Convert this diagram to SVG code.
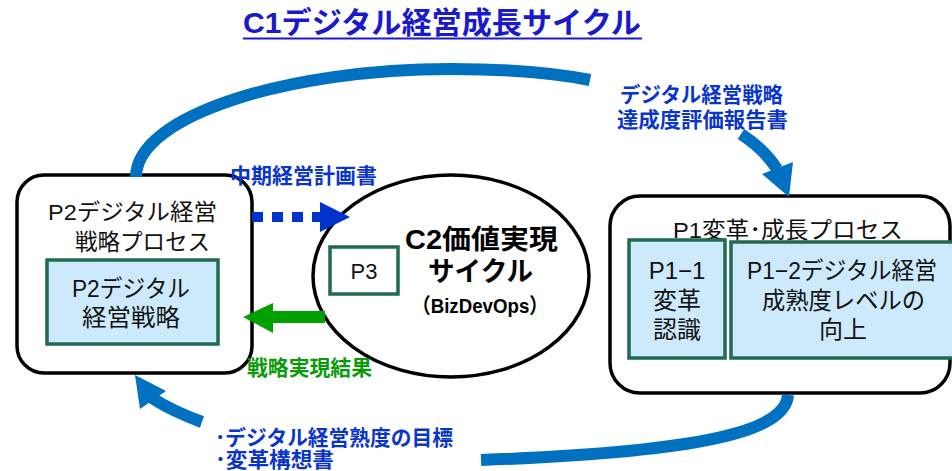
<svg xmlns="http://www.w3.org/2000/svg" width="952" height="471" viewBox="0 0 952 471">
<defs>
<style>
text{font-family:"Liberation Sans","Noto Sans CJK JP",sans-serif;}
.box{fill:#ffffff;stroke:#000000;stroke-width:3.5;}
.inner{fill:#cdeafc;stroke:#1f6a50;stroke-width:3.5;}
.p3{fill:#ffffff;stroke:#1f6a50;stroke-width:3.5;}
.t{font-size:22.5px;fill:#111;}
.ti{font-size:24px;fill:#111;}
.lb{font-size:21px;font-weight:bold;fill:#0a35cc;}
.lg{font-size:21px;font-weight:bold;fill:#0a9a0a;}
.arc{fill:none;stroke:#0070c0;stroke-width:12;}
.head{fill:#0070c0;}
</style>
</defs>

<g id="title">
<text x="243" y="33" font-size="30" font-weight="bold" fill="#1a1acc" textLength="398" lengthAdjust="spacingAndGlyphs">C1デジタル経営成長サイクル</text>
<rect x="243" y="37.5" width="399" height="2" fill="#1a1acc"/>
</g>

<g id="p2">
<rect class="box" x="17" y="175" width="235" height="198" rx="27"/>
<text class="t" x="48" y="220" textLength="169" lengthAdjust="spacingAndGlyphs">P2デジタル経営</text>
<text class="t" x="75" y="250" textLength="135" lengthAdjust="spacingAndGlyphs">戦略プロセス</text>
<rect class="inner" x="47" y="260" width="171" height="84"/>
<text class="ti" x="72" y="297" textLength="118" lengthAdjust="spacingAndGlyphs">P2デジタル</text>
<text class="ti" x="82" y="326" textLength="98" lengthAdjust="spacingAndGlyphs">経営戦略</text>
</g>

<g id="c2">
<ellipse cx="451" cy="276" rx="138" ry="101" fill="#ffffff" stroke="#000" stroke-width="3.5"/>
<text x="405" y="249" font-size="27" font-weight="bold" fill="#000" textLength="153" lengthAdjust="spacingAndGlyphs">C2価値実現</text>
<text x="428" y="281" font-size="27" font-weight="bold" fill="#000" textLength="105" lengthAdjust="spacingAndGlyphs">サイクル</text>
<text x="412" y="313" font-size="21" font-weight="bold" fill="#000" textLength="136" lengthAdjust="spacingAndGlyphs">（BizDevOps）</text>
</g>

<g id="p3">
<rect class="p3" x="330" y="247" width="68" height="47"/>
<text x="364" y="279" font-size="22" fill="#111" text-anchor="middle">P3</text>
</g>

<g id="p1">
<rect class="box" x="610" y="196" width="340" height="197" rx="30"/>
<text class="t" x="673" y="238" textLength="230" lengthAdjust="spacingAndGlyphs">P1変革･成長プロセス</text>
</g>

<g id="p1-1">
<rect class="inner" x="629" y="240" width="96" height="118"/>
<text class="ti" x="677" y="279" text-anchor="middle" font-size="23">P1−1</text>
<text class="ti" x="677" y="309" text-anchor="middle" font-size="23">変革</text>
<text class="ti" x="677" y="338" text-anchor="middle" font-size="23">認識</text>
</g>

<g id="p1-2">
<rect class="inner" x="731" y="242" width="226" height="116"/>
<text class="ti" x="747" y="279" font-size="23" textLength="190" lengthAdjust="spacingAndGlyphs">P1−2デジタル経営</text>
<text class="ti" x="762" y="309" font-size="23" textLength="163" lengthAdjust="spacingAndGlyphs">成熟度レベルの</text>
<text class="ti" x="843" y="338" font-size="23" text-anchor="middle">向上</text>
</g>

<g id="connectors">
<path class="arc" d="M136,177 C136,115 290,69 450,69 C520,69 560,74 590,80"/>
<path class="arc" d="M741,134 Q764,149 777,169"/>
<polygon class="head" points="762,174 793,162 789,197"/>
<path class="arc" stroke-width="11" d="M788,395 C785,432 700,452 481,460"/>
<path class="arc" stroke-width="11" d="M202,422 Q172,411 152,398"/>
<polygon class="head" points="135,375 140,409 166,391"/>
<line x1="252" y1="217" x2="320" y2="217" stroke="#0033cc" stroke-width="10" stroke-dasharray="11 9"/>
<polygon points="320,202 350,217 320,232" fill="#0033cc"/>
<line x1="325" y1="317" x2="272" y2="317" stroke="#00a000" stroke-width="12"/>
<polygon points="273,303 243,317 273,333" fill="#00a000"/>
</g>

<g id="labels">
<text class="lb" x="230" y="183" textLength="147" lengthAdjust="spacingAndGlyphs">中期経営計画書</text>
<text class="lg" x="247" y="375" textLength="125" lengthAdjust="spacingAndGlyphs">戦略実現結果</text>
<text class="lb" x="620" y="102" textLength="163" lengthAdjust="spacingAndGlyphs">デジタル経営戦略</text>
<text class="lb" x="617" y="127" textLength="171" lengthAdjust="spacingAndGlyphs">達成度評価報告書</text>
<text class="lb" x="215" y="445" textLength="238" lengthAdjust="spacingAndGlyphs">･デジタル経営熟度の目標</text>
<text class="lb" x="215" y="467" textLength="119" lengthAdjust="spacingAndGlyphs">･変革構想書</text>
</g>
</svg>
